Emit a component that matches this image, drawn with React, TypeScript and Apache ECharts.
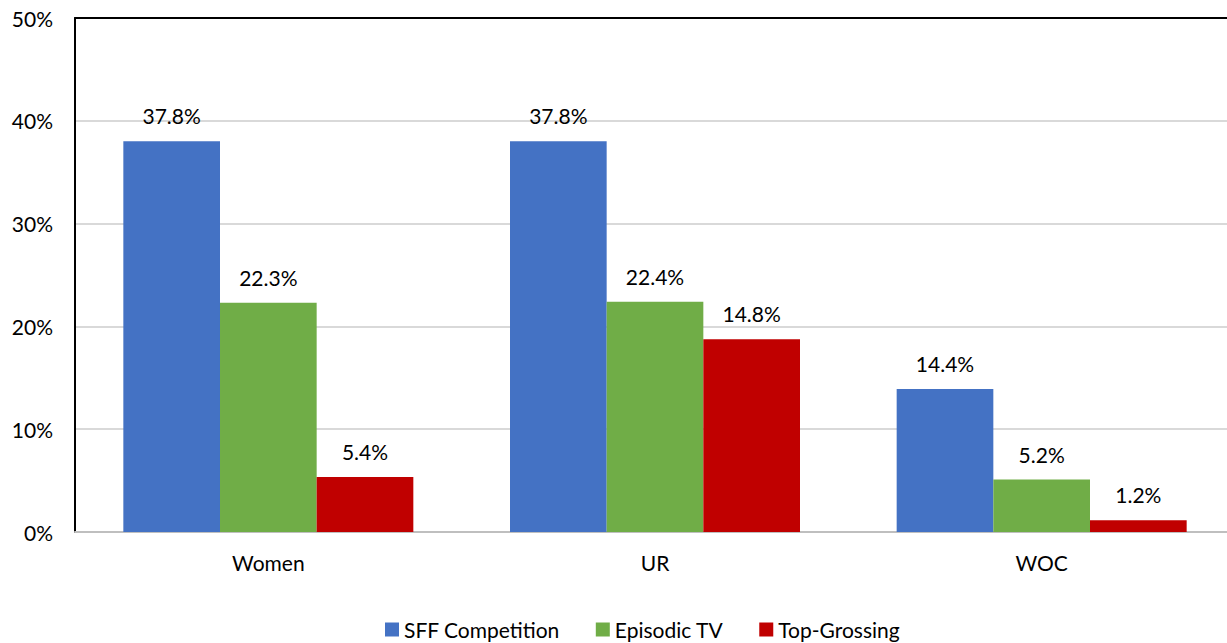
import React, { useEffect, useRef } from "react";
import * as echarts from "echarts";

const categories = ["Women", "UR", "WOC"];
const seriesNames = ["SFF Competition", "Episodic TV", "Top-Grossing"];
const sffValues = [38.0, 38.0, 13.9];
const tvValues = [22.3, 22.4, 5.1];
const topValues = [5.35, 18.75, 1.15];
const sffLabels = ["37.8%", "37.8%", "14.4%"];
const tvLabels = ["22.3%", "22.4%", "5.2%"];
const topLabels = ["5.4%", "14.8%", "1.2%"];
const colors = ["#4472C4", "#70AD47", "#C00000"];

const FONT = "Lato, 'Open Sans', sans-serif";
const FS = 21;

export default function App() {
  const ref = useRef<HTMLDivElement>(null);
  useEffect(() => {
    if (!ref.current) return;
    const chart = echarts.init(ref.current, undefined, { renderer: "svg" });
    const values = [sffValues, tvValues, topValues];
    const labels = [sffLabels, tvLabels, topLabels];
    chart.setOption({
      animation: false,
      textStyle: { fontFamily: FONT },
      grid: {
        left: 75,
        top: 18,
        width: 1160,
        height: 514,
        containLabel: false,
        outerBoundsMode: "none",
      },
      legend: {
        top: 614,
        left: 380,
        padding: 5,
        itemWidth: 14,
        itemHeight: 14,
        itemGap: 36,
        icon: "rect",
        textStyle: { fontSize: FS, color: "#000", fontFamily: FONT },
        data: seriesNames,
      },
      xAxis: [
        {
          type: "category",
          data: categories,
          axisLine: { show: true, lineStyle: { color: "#bfbfbf", width: 2 } },
          axisTick: { show: false },
          axisLabel: { fontSize: FS, color: "#000", margin: 20, fontFamily: FONT },
        },
        {
          type: "category",
          position: "top",
          data: categories,
          axisLine: { show: true, lineStyle: { color: "#000", width: 2 } },
          axisTick: { show: false },
          axisLabel: { show: false },
        },
      ],
      yAxis: {
        type: "value",
        min: 0,
        max: 50,
        interval: 10,
        axisLine: { show: true, lineStyle: { color: "#000", width: 2 } },
        axisTick: { show: false },
        splitLine: { show: true, lineStyle: { color: "#d9d9d9", width: 2 } },
        axisLabel: {
          formatter: "{value}%",
          fontSize: FS,
          color: "#000",
          margin: 22,
          fontFamily: FONT,
        },
      },
      series: seriesNames.map((name, i) => ({
        name,
        type: "bar",
        xAxisIndex: 0,
        data: values[i],
        barGap: "0%",
        barCategoryGap: "25%",
        itemStyle: { color: colors[i] },
        label: {
          show: true,
          position: "top",
          distance: 15,
          fontSize: FS,
          color: "#000",
          fontFamily: FONT,
          formatter: (p: any) => labels[i][p.dataIndex],
        },
      })),
    });
    return () => chart.dispose();
  }, []);
  return (
    <div
      ref={ref}
      style={{ position: "fixed", left: 0, top: 0, width: 1227, height: 643, background: "#fff" }}
    />
  );
}
